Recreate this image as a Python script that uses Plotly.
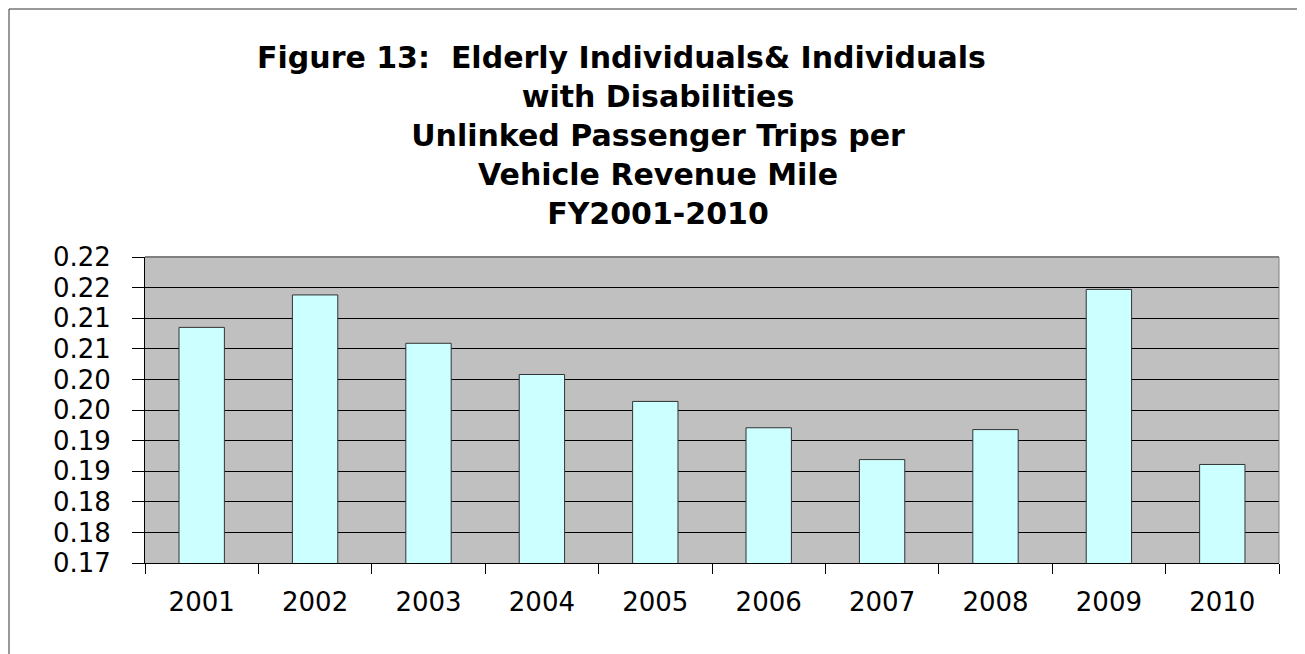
import plotly.graph_objs as go

# data
years = ["2001", "2002", "2003", "2004", "2005", "2006", "2007", "2008", "2009", "2010"]
trips_per_mile = [0.2085, 0.2138, 0.2059, 0.2008, 0.1964, 0.1921, 0.1869, 0.1918, 0.2147, 0.1861]
y_tick_values = [0.170, 0.175, 0.180, 0.185, 0.190, 0.195, 0.200, 0.205, 0.210, 0.215, 0.220]
y_tick_labels = ["0.17", "0.18", "0.18", "0.19", "0.19", "0.20", "0.20", "0.21", "0.21", "0.22", "0.22"]

title_lines = [
    # trailing no-break spaces push the first line a bit left, as in the original
    "Figure 13:  Elderly Individuals& Individuals" + "\u00a0" * 7,
    "with Disabilities",
    "Unlinked Passenger Trips per",
    "Vehicle Revenue Mile",
    "FY2001-2010",
]

FONT = "DejaVu Sans"
# the page body has an 8px margin, so the figure is a bit smaller than the window
W, H = 1297, 646
L, R, T, B = 137, 26, 249, 91
plot_w = W - L - R
plot_h = H - T - B

fig = go.Figure()
fig.add_trace(
    go.Bar(
        x=years,
        y=trips_per_mile,
        marker=dict(color="#CCFFFF", line=dict(color="#333333", width=1)),
        showlegend=False,
    )
)

fig.update_layout(
    width=W,
    height=H,
    margin=dict(l=L, r=R, t=T, b=B),
    paper_bgcolor="white",
    plot_bgcolor="#C0C0C0",
    bargap=0.6,
    title=dict(
        text="<br>".join(title_lines),
        x=650 / W,
        xanchor="center",
        xref="container",
        y=1 - 60 / H,
        yanchor="top",
        yref="container",
        font=dict(family=FONT, size=30, color="black", weight="bold"),
    ),
    xaxis=dict(
        type="category",
        showgrid=False,
        showline=True,
        linecolor="black",
        linewidth=1,
        ticks="outside",
        tickson="boundaries",
        ticklen=10,
        tickcolor="black",
        ticklabelstandoff=16,
        tickfont=dict(family=FONT, size=26, color="black"),
    ),
    yaxis=dict(
        range=[0.17, 0.22],
        tickvals=y_tick_values,
        ticktext=y_tick_labels,
        showgrid=True,
        gridcolor="black",
        gridwidth=1,
        zeroline=False,
        showline=True,
        linecolor="black",
        linewidth=1,
        ticks="outside",
        ticklen=12,
        tickcolor="black",
        ticklabelstandoff=16,
        tickfont=dict(family=FONT, size=26, color="black"),
    ),
    shapes=[
        # gray plot-area border on top and right
        dict(type="line", xref="paper", yref="paper", x0=0, x1=1, y0=1, y1=1,
             line=dict(color="#808080", width=2)),
        dict(type="line", xref="paper", yref="paper", x0=1, x1=1, y0=0, y1=1,
             line=dict(color="#808080", width=1)),
        # outer chart frame
        dict(type="rect", xref="paper", yref="paper",
             x0=(1 - L) / plot_w, x1=(1293 - L) / plot_w,
             y0=(T + plot_h - 670) / plot_h, y1=(T + plot_h - 1) / plot_h,
             line=dict(color="#333333", width=1)),
    ],
)

fig.write_html("out.html")
